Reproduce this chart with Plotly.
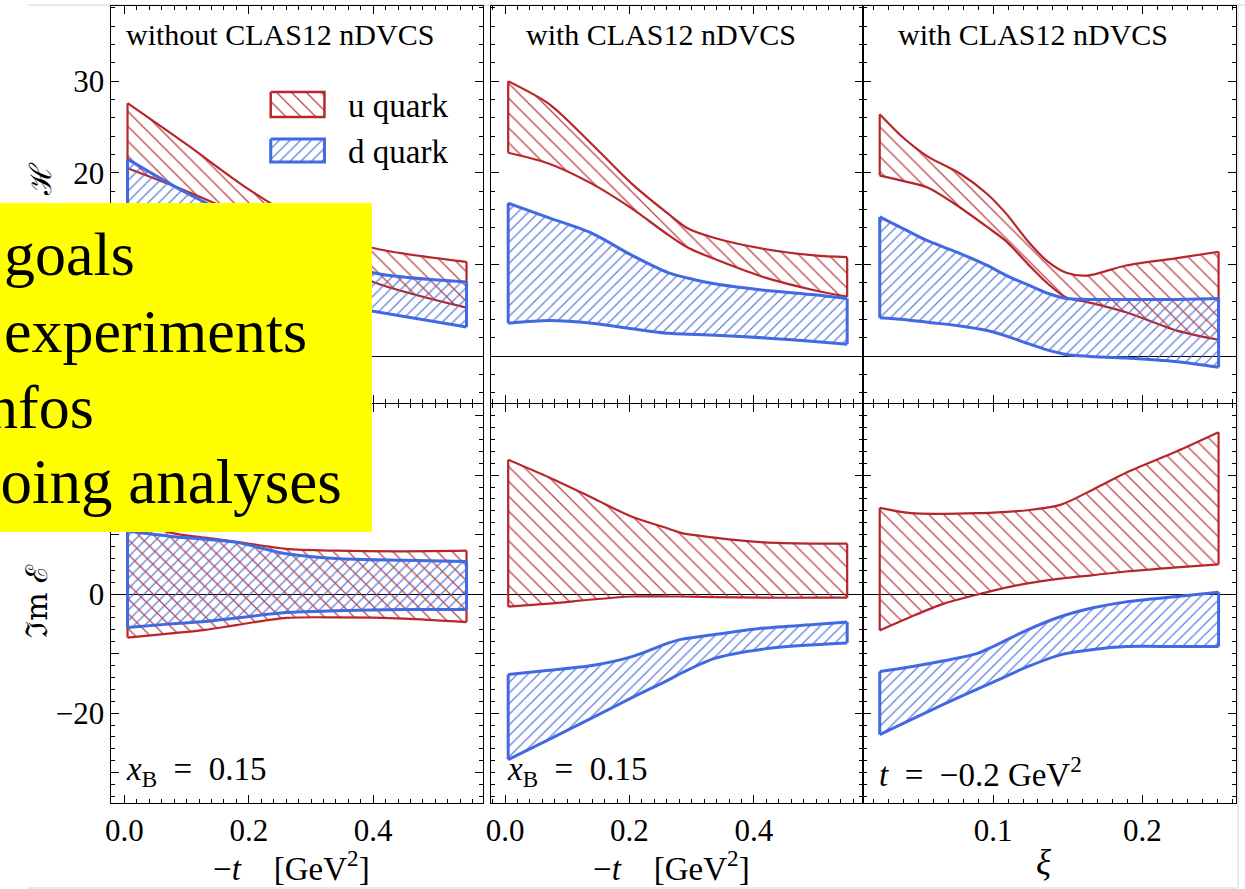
import plotly.graph_objects as go

W, H = 1245, 889

# ---------------- data ----------------
# top-left: Re H, without CLAS12 nDVCS, vs -t
tl_t = [0.005, 0.1, 0.2, 0.3, 0.4, 0.55]
tl_u_up = [27.6, 23.1, 18.2, 14.2, 11.8, 10.3]
tl_u_lo = [20.5, 18.0, 15.0, 11.5, 8.1, 5.3]
tl_d_up = [21.5, 17.8, 14.5, 11.5, 9.1, 8.1]
tl_d_lo = [11.0, 9.0, 7.2, 6.0, 4.9, 3.2]

# bottom-left: Im E, without CLAS12 nDVCS, vs -t
bl_t = [0.005, 0.075, 0.13, 0.18, 0.26, 0.34, 0.45, 0.55]
bl_u_up = [13.0, 10.3, 9.5, 8.8, 7.6, 7.3, 7.2, 7.3]
bl_u_lo = [-7.3, -6.6, -6.0, -5.2, -4.0, -3.9, -4.1, -4.7]
bl_d_up = [10.6, 9.7, 9.2, 8.7, 6.8, 6.0, 5.7, 5.5]
bl_d_lo = [-5.6, -5.0, -4.6, -4.0, -3.1, -2.8, -2.6, -2.6]

# top-middle: Re H, with CLAS12 nDVCS, vs -t
tm_t = [0.005, 0.071, 0.14, 0.204, 0.263, 0.295, 0.337, 0.417, 0.497, 0.55]
tm_u_up = [30.0, 27.5, 23.1, 18.8, 15.5, 13.9, 12.9, 11.7, 11.0, 10.8]
tm_u_lo = [22.2, 21.0, 18.8, 16.1, 13.2, 11.8, 10.6, 8.6, 7.2, 6.5]
tm_d_up = [16.7, 15.1, 13.4, 11.0, 9.1, 8.5, 7.9, 7.2, 6.7, 6.3]
tm_d_lo = [3.6, 3.9, 3.6, 3.0, 2.5, 2.4, 2.3, 2.0, 1.6, 1.3]

# bottom-middle: Im E, with CLAS12 nDVCS, vs -t
bm_t = [0.005, 0.071, 0.14, 0.204, 0.263, 0.283, 0.337, 0.417, 0.497, 0.55]
bm_u_up = [22.6, 19.6, 16.2, 13.0, 11.0, 10.3, 9.5, 8.7, 8.5, 8.5]
bm_u_lo = [-2.1, -1.6, -0.9, -0.4, -0.4, -0.4, -0.5, -0.6, -0.6, -0.6]
bm_d_up = [-13.5, -12.8, -12.0, -10.5, -8.2, -7.6, -6.8, -5.7, -5.1, -4.7]
bm_d_lo = [-27.8, -24.4, -20.8, -17.4, -14.4, -13.3, -10.8, -9.2, -8.5, -8.2]

# top-right: Re H, with CLAS12 nDVCS, vs xi
tr_xi = [0.024, 0.040, 0.056, 0.078, 0.096, 0.109, 0.123, 0.136, 0.149, 0.163, 0.189, 0.223, 0.251]
tr_u_up = [26.4, 23.8, 21.8, 19.9, 17.7, 15.5, 12.6, 10.4, 9.1, 8.8, 9.9, 10.7, 11.4]
tr_u_lo = [19.7, 19.1, 18.4, 16.2, 14.1, 12.5, 10.1, 8.0, 6.4, 5.9, 4.8, 2.8, 1.8]
tr_d_up = [15.2, 13.9, 12.6, 11.2, 9.9, 8.8, 7.8, 6.9, 6.3, 6.2, 6.2, 6.2, 6.3]
tr_d_lo = [4.2, 4.0, 3.7, 3.3, 2.8, 2.2, 1.4, 0.7, 0.2, 0.0, -0.2, -0.6, -1.2]

# bottom-right: Im E, with CLAS12 nDVCS, vs xi
br_xi = [0.024, 0.045, 0.067, 0.089, 0.100, 0.123, 0.145, 0.167, 0.189, 0.223, 0.251]
br_u_up = [14.5, 13.6, 13.5, 13.6, 13.7, 14.1, 15.0, 17.6, 20.4, 24.0, 27.2]
br_u_lo = [-6.1, -3.8, -1.6, -0.1, 0.6, 1.8, 2.6, 3.2, 3.8, 4.5, 5.0]
br_d_up = [-13.0, -12.2, -11.2, -10.0, -8.8, -6.0, -3.8, -2.3, -1.3, -0.4, 0.3]
br_d_lo = [-23.6, -21.1, -18.5, -16.0, -14.8, -12.2, -10.2, -9.3, -8.8, -8.8, -8.8]

quark_names = ["u quark", "d quark"]
panel_titles = ["without CLAS12 nDVCS", "with CLAS12 nDVCS", "with CLAS12 nDVCS"]
ytitles = ["ℜe ℋ", "ℑm ℰ"]
bottom_ticks = [-30, -20, -10, 0, 10, 20, 30]
bottom_ticktext = ["", "−20", "", "0", "", "20", ""]
box_lines = ["goals", "experiments", "nfos", "going analyses"]

# ---------------- style ----------------
RED = "#B5272B"
BLUE = "#4169E1"
SERIF = "Liberation Serif"
MATHF = "DejaVu Serif"
DX = -6  # horizontal correction for annotation boxes (px)


def px(x):
    return x / W


def py(y):
    return 1 - y / H


def pattern(color, shape, size, solidity):
    return dict(shape=shape, size=size, solidity=solidity, fgcolor=color,
                bgcolor="rgba(0,0,0,0)", fgopacity=0.85, fillmode="replace")


def band(fig, x, up, lo, color, shape, size, solidity, lw, xa, ya, name):
    x = list(x)
    # hatched area
    fig.add_trace(go.Scatter(
        x=x + x[::-1], y=list(up) + list(lo)[::-1],
        mode="lines", fill="toself", fillcolor="rgba(0,0,0,0)",
        fillpattern=pattern(color, shape, size, solidity),
        line=dict(width=0, color="rgba(0,0,0,0)"),
        xaxis=xa, yaxis=ya, showlegend=False, hoverinfo="skip", name=name))
    # smooth upper and lower edges
    for yy in (up, lo):
        fig.add_trace(go.Scatter(
            x=x, y=list(yy), mode="lines",
            line=dict(color=color, width=lw, shape="spline", smoothing=0.8),
            xaxis=xa, yaxis=ya, showlegend=False, hoverinfo="skip", name=name))
    # closing vertical edges
    fig.add_trace(go.Scatter(
        x=[x[0], x[0], None, x[-1], x[-1]],
        y=[up[0], lo[0], None, up[-1], lo[-1]], mode="lines",
        line=dict(color=color, width=lw),
        xaxis=xa, yaxis=ya, showlegend=False, hoverinfo="skip", name=name))


fig = go.Figure()
panels = [
    ("x", "y", tl_t, tl_u_up, tl_u_lo, tl_d_up, tl_d_lo),
    ("x2", "y2", tm_t, tm_u_up, tm_u_lo, tm_d_up, tm_d_lo),
    ("x3", "y3", tr_xi, tr_u_up, tr_u_lo, tr_d_up, tr_d_lo),
    ("x4", "y4", bl_t, bl_u_up, bl_u_lo, bl_d_up, bl_d_lo),
    ("x5", "y5", bm_t, bm_u_up, bm_u_lo, bm_d_up, bm_d_lo),
    ("x6", "y6", br_xi, br_u_up, br_u_lo, br_d_up, br_d_lo),
]
for xa, ya, xv, uu, ul, du, dl in panels:
    band(fig, xv, uu, ul, RED, "\\", 10.5, 0.13, 2.2, xa, ya, quark_names[0])
    band(fig, xv, du, dl, BLUE, "/", 7.5, 0.17, 3, xa, ya, quark_names[1])

# legend swatches on a full-page pixel overlay axis
LEG_X = (266, 320)
LEG_Y = [(92, 117), (139, 162)]
for (y0, y1), color, shape, size, sol, lw, nm in [
        (LEG_Y[0], RED, "\\", 10.5, 0.13, 2.5, quark_names[0]),
        (LEG_Y[1], BLUE, "/", 7.5, 0.17, 3, quark_names[1])]:
    fig.add_trace(go.Scatter(
        x=[LEG_X[0], LEG_X[1], LEG_X[1], LEG_X[0], LEG_X[0]],
        y=[y0, y0, y1, y1, y0], mode="lines", fill="toself",
        fillcolor="rgba(0,0,0,0)", fillpattern=pattern(color, shape, size, sol),
        line=dict(color=color, width=lw), xaxis="x7", yaxis="y7",
        showlegend=False, hoverinfo="skip", name=nm))

# ---------------- axes ----------------
XDOM = [(106, 479), (487, 861), (861, 1236)]
YDOM = [(6, 403), (404, 803)]
XRANGE = [(-0.0208, 0.576), (-0.0232, 0.5752), (0.0127, 0.2627)]
YRANGE = [(-5.1, 38.2), (-35.1, 31.95)]
TICKF = dict(family=SERIF, size=31, color="black")

layout_axes = {}
for r in range(2):
    for c in range(3):
        i = r * 3 + c + 1
        sx = "" if i == 1 else str(i)
        xd = XDOM[c]
        yd = YDOM[r]
        layout_axes["xaxis" + sx] = dict(
            domain=[px(xd[0]), px(xd[1])], range=list(XRANGE[c]),
            anchor="y" + sx, showline=True, linecolor="black", linewidth=1,
            mirror="allticks", ticks="inside", ticklen=8, tickcolor="black",
            tick0=0, dtick=0.2 if c < 2 else 0.1, tickformat=".1f",
            minor=dict(ticks="inside", ticklen=4, tickcolor="black",
                       tickmode="linear", tick0=0, dtick=0.02 if c < 2 else 0.01),
            showgrid=False, zeroline=False, showticklabels=(r == 1),
            tickfont=TICKF, fixedrange=True)
        yax = dict(
            domain=[py(yd[1]), py(yd[0])], range=list(YRANGE[r]),
            anchor="x" + sx, showline=True, linecolor="black", linewidth=1,
            mirror="allticks", ticks="inside", ticklen=8, tickcolor="black",
            minor=dict(ticks="inside", ticklen=4, tickcolor="black",
                       tickmode="linear", tick0=0, dtick=2),
            showgrid=False, zeroline=True, zerolinecolor="black", zerolinewidth=1,
            showticklabels=(c == 0), tickfont=TICKF, fixedrange=True)
        if r == 0:
            yax.update(tick0=0, dtick=10)
        else:
            yax.update(tickmode="array", tickvals=bottom_ticks, ticktext=bottom_ticktext)
        layout_axes["yaxis" + sx] = yax

layout_axes["xaxis7"] = dict(domain=[0, 1], range=[0, W], visible=False, anchor="y7", fixedrange=True)
layout_axes["yaxis7"] = dict(domain=[0, 1], range=[H, 0], visible=False, anchor="x7", fixedrange=True)


# ---------------- annotations ----------------
def ann(text, x, base, size, family=SERIF, anchor="left"):
    return dict(text=text, xref="paper", yref="paper", x=px(x + DX), y=py(base - 0.34 * size),
                xanchor=anchor, yanchor="middle", showarrow=False,
                font=dict(family=family, size=size, color="black"))


anns = []
# y-axis titles (partly under the yellow box)
anns.append(dict(text=ytitles[0], xref="paper", yref="paper", x=px(40 + DX), y=py(204),
                 xanchor="center", yanchor="middle", textangle=-90, showarrow=False,
                 font=dict(family=MATHF, size=30, color="black")))
anns.append(dict(text=ytitles[1], xref="paper", yref="paper", x=px(36 + DX), y=py(601),
                 xanchor="center", yanchor="middle", textangle=-90, showarrow=False,
                 font=dict(family=MATHF, size=30, color="black")))
# panel titles
anns.append(ann(panel_titles[0], 125, 45, 30))
anns.append(ann(panel_titles[1], 527, 45, 30))
anns.append(ann(panel_titles[2], 900, 45, 30))
# legend labels
anns.append(ann(quark_names[0], 348, 117, 33))
anns.append(ann(quark_names[1], 348, 163, 33))
# kinematics
anns.append(ann("<i>x</i><sub>B</sub>  =  0.15", 125, 783, 33))
anns.append(ann("<i>x</i><sub>B</sub>  =  0.15", 507, 783, 33))
anns.append(ann("<i>t</i>  =  −0.2 GeV<sup>2</sup>", 881, 783, 33))
# x-axis titles
anns.append(ann("−<i>t</i>    [GeV<sup>2</sup>]", 293, 877, 33, anchor="center"))
anns.append(ann("−<i>t</i>    [GeV<sup>2</sup>]", 675, 877, 33, anchor="center"))
anns.append(ann("<i>ξ</i>", 1049, 874, 35, anchor="center"))
# yellow overlay box (right edge at 373 px)
anns.append(dict(text=" ", xref="paper", yref="paper", x=px(373 + DX + 1), y=py(203),
                 xanchor="right", yanchor="top", width=420, height=329,
                 bgcolor="#FFFF00", borderpad=0, borderwidth=0, showarrow=False,
                 font=dict(size=10)))
anns.append(ann(box_lines[0], 2, 275, 62))
anns.append(ann(box_lines[1], 2, 352, 62))
anns.append(ann(box_lines[2], 96, 428, 62, anchor="right"))
anns.append(ann(box_lines[3], 346, 503, 63, anchor="right"))

shapes = [
    dict(type="line", xref="paper", yref="paper", x0=px(22), x1=1, y0=py(5), y1=py(5),
         line=dict(color="#d4d4d4", width=1), layer="below"),
    dict(type="line", xref="paper", yref="paper", x0=px(22), x1=px(1238), y0=py(888), y1=py(888),
         line=dict(color="#d4d4d4", width=1), layer="below"),
    dict(type="line", xref="paper", yref="paper", x0=px(1238), x1=px(1238), y0=py(888), y1=py(5),
         line=dict(color="#d4d4d4", width=1), layer="below"),
]

fig.update_layout(
    width=W, height=H, autosize=False,
    margin=dict(l=0, r=0, t=0, b=0),
    paper_bgcolor="white", plot_bgcolor="rgba(0,0,0,0)",
    showlegend=False, annotations=anns, shapes=shapes,
    font=dict(family=SERIF, color="black"),
    **layout_axes,
)

fig.write_html(
    "out.html",
    config={"displayModeBar": False},
    post_script="document.body.style.margin='0';document.body.style.padding='0';"
                "document.body.style.overflow='hidden';",
)
